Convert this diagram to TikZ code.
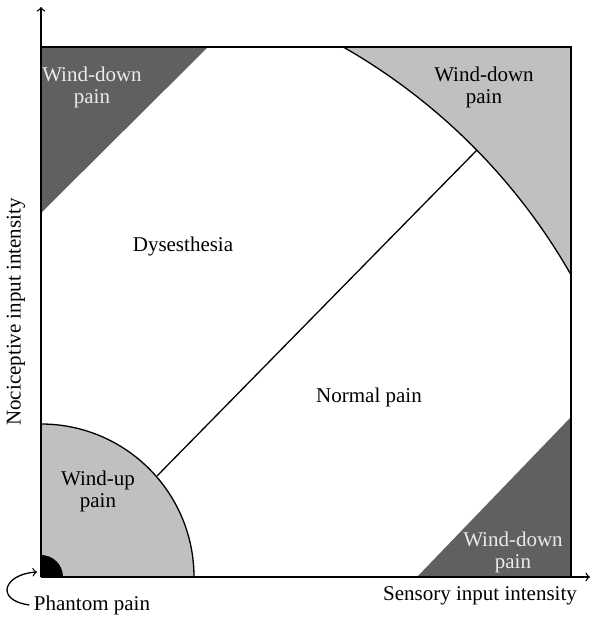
\documentclass[tikz,border=0pt]{standalone}
\usepackage{fontspec}
\setmainfont{Liberation Serif}
\begin{document}
\begin{tikzpicture}[x=0.5pt,y=0.5pt,line width=0.65pt,
  lbl/.style={font=\fontsize{10.5}{11}\selectfont,align=center,inner sep=0pt},
  wlbl/.style={lbl,text=white!92!black}]
\definecolor{darkreg}{RGB}{95,96,95}
\definecolor{lightreg}{RGB}{192,192,192}
\useasboundingbox (0,0) rectangle (592,618);
% coordinates
\coordinate (O) at (41,41);
\coordinate (TL) at (41,571);
\coordinate (TR) at (571,571);
\coordinate (BR) at (571,41);
% dark triangles
\fill[darkreg] (41,571) -- (208,571) -- (41,405) -- cycle;
\fill[darkreg] (417,41) -- (571,41) -- (571,201) -- cycle;
% light region outside big arc
\begin{scope}
  \clip (O) rectangle (TR);
  \fill[lightreg,even odd rule] (O) rectangle (TR) (O) circle[radius=610];
  \draw (O) circle[radius=610];
\end{scope}
% wind-up
\fill[lightreg] (O) -- (194,41) arc[start angle=0,end angle=90,radius=153] -- cycle;
\draw (194,41) arc[start angle=0,end angle=90,radius=153];
% phantom
\fill[black] (O) -- (63,41) arc[start angle=0,end angle=90,radius=22] -- cycle;
% diagonal
\coordinate (d1) at (157,142);
\coordinate (d2) at (477,468);
\draw (d1) -- (d2);
% square
\draw (TL) -- (TR) -- (BR);
% axes
\coordinate (ytip) at (41,611);
\coordinate (xtip) at (590,41);
\draw[->] (O) -- (ytip);
\draw[->] (O) -- (xtip);
% labels
\node[wlbl] (wdtl) at (92,531) {Wind-down\\pain};
\node[lbl] (wdtr) at (484,531) {Wind-down\\pain};
\node[wlbl] (wdbr) at (513,66) {Wind-down\\pain};
\node[lbl] (wu) at (98,127) {Wind-up\\pain};
\node[lbl] (dys) at (183,372) {Dysesthesia};
\node[lbl] (np) at (369,221) {Normal pain};
\node[lbl] (sens) at (480,22) {Sensory input intensity};
\node[lbl] (phant) at (92,13) {Phantom pain};
\node[lbl,rotate=90] (noci) at (16,306) {Nociceptive input intensity};
% phantom arrow
\coordinate (ptip) at (37,46);
\draw[->] ([xshift=-2pt]phant.west) .. controls (-6,18) and (4,44) .. (ptip);
\end{tikzpicture}
\end{document}
